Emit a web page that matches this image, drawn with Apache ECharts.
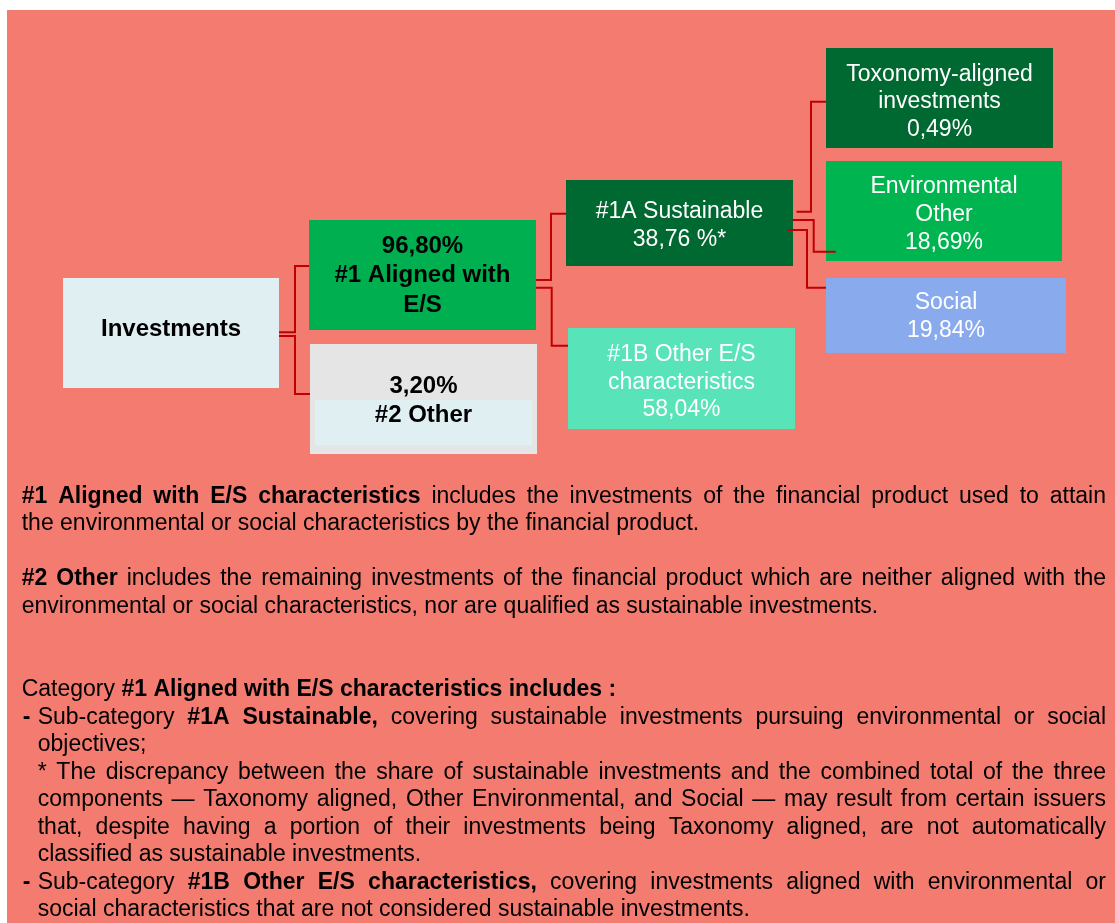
<!DOCTYPE html>
<html>
<head>
<meta charset="utf-8">
<script src="https://cdn.jsdelivr.net/npm/echarts@6/dist/echarts.min.js"></script>
<style>
  html, body { margin: 0; padding: 0; background: #fff; }
  #chart { width: 1115px; height: 923px; }
</style>
</head>
<body>
<div id="chart"></div>
<script>
// ---- data ----
var nodeNames = [
  "Investments",
  "#1 Aligned with\nE/S",
  "#2 Other",
  "#1A Sustainable",
  "#1B Other E/S\ncharacteristics",
  "Toxonomy-aligned\ninvestments",
  "Environmental\nOther",
  "Social"
];
var nodeShares = [null, 96.80, 3.20, 38.76, 58.04, 0.49, 18.69, 19.84];
var shareSuffix = ["", "%", "%", " %*", "%", "%", "%", "%"];
var nodeParent = [-1, 0, 0, 1, 1, 3, 3, 3];

// notes under the diagram, one entry per printed line: [bold, text] parts
var noteLines = [
  [[1, "#1 Aligned with E/S characteristics"], [0, " includes the investments of the financial product used to attain"]],
  [[0, "the environmental or social characteristics by the financial product."]],
  [[1, "#2 Other"], [0, " includes the remaining investments of the financial product which are neither aligned with the"]],
  [[0, "environmental or social characteristics, nor are qualified as sustainable investments."]],
  [[0, "Category "], [1, "#1 Aligned with E/S characteristics includes :"]],
  [[0, "Sub-category "], [1, "#1A Sustainable,"], [0, " covering sustainable investments pursuing environmental or social"]],
  [[0, "objectives;"]],
  [[0, "* The discrepancy between the share of sustainable investments and the combined total of the three"]],
  [[0, "components \u2014 Taxonomy aligned, Other Environmental, and Social \u2014 may result from certain issuers"]],
  [[0, "that, despite having a portion of their investments being Taxonomy aligned, are not automatically"]],
  [[0, "classified as sustainable investments."]],
  [[0, "Sub-category "], [1, "#1B Other E/S characteristics,"], [0, " covering investments aligned with environmental or"]],
  [[0, "social characteristics that are not considered sustainable investments."]]
];

// ---- layout ----
var FONT = "'Liberation Sans', Arial, sans-serif";
var nodeLayout = [
  { box: [63, 278, 279, 388], fill: "#DFEFF2", color: "#000", bold: true, size: 24, lh: 29.5, dy: -4 },
  { box: [309, 220, 536, 330], fill: "#00AF50", color: "#000", bold: true, size: 24, lh: 29.5, dy: 0.5, shareFirst: true },
  { box: [310, 344, 537, 454], fill: "#E5E5E5", color: "#000", bold: true, size: 24, lh: 29.5, dy: 2, shareFirst: true,
    band: [315, 400, 532, 445], bandFill: "#DFEFF2" },
  { box: [566, 180, 793, 266], fill: "#006831", color: "#fff", size: 23, lh: 27.4, dy: 2.5 },
  { box: [568, 328, 795, 429], fill: "#58E3B8", color: "#fff", size: 23, lh: 27.4, dy: 4 },
  { box: [826, 48, 1053, 148], fill: "#006831", color: "#fff", size: 23, lh: 27.6, dy: 4 },
  { box: [826, 161, 1062, 261], fill: "#00B450", color: "#fff", size: 23, lh: 27.6, dy: 3.7 },
  { box: [826, 278, 1066, 353], fill: "#8AAAEE", color: "#fff", size: 23, lh: 27.6, dy: 1 }
];
// elbow connectors child -> [startX, startY, elbowX, endX, endY]
var edgeLayout = {
  1: [279, 332.3, 295, 309, 266],
  2: [279, 336, 295, 310, 394],
  3: [536, 280, 551, 566, 213.7],
  4: [536, 287.7, 551.7, 568, 345.7],
  5: [796.5, 211.7, 811, 826, 101.7],
  6: [792.5, 220, 813.7, 835.7, 251.7],
  7: [788, 230, 807, 826, 287.7]
};
var noteLayout = [
  { x: 21.7, y: 503.3, justify: true },
  { x: 21.7, y: 531 },
  { x: 21.7, y: 586, justify: true },
  { x: 21.7, y: 614 },
  { x: 21.7, y: 696.7 },
  { x: 37.7, y: 724.2, justify: true, bullet: true },
  { x: 37.7, y: 751.7 },
  { x: 37.7, y: 779.2, justify: true },
  { x: 37.7, y: 806.7, justify: true },
  { x: 37.7, y: 834.2, justify: true },
  { x: 37.7, y: 861.7 },
  { x: 37.7, y: 889.2, justify: true, bullet: true },
  { x: 37.7, y: 916.7 }
];
var NOTE_SIZE = 23;
var NOTE_RIGHT = 1106;

function fmtShare(v) {
  return v.toFixed(2).replace(".", ",");
}
function nodeLabel(i) {
  if (nodeShares[i] == null) return nodeNames[i];
  var s = fmtShare(nodeShares[i]) + shareSuffix[i];
  return nodeLayout[i].shareFirst ? s + "\n" + nodeNames[i] : nodeNames[i] + "\n" + s;
}

// justified note text, word by word
var ctx = document.createElement("canvas").getContext("2d");
function noteFont(bold) {
  return (bold ? "bold " : "") + NOTE_SIZE + "px " + FONT;
}
function measure(t, bold) {
  ctx.font = noteFont(bold);
  return ctx.measureText(t).width;
}
function buildNotes() {
  var els = [];
  var midOff = NOTE_SIZE * 0.3;
  noteLines.forEach(function (parts, li) {
    var lay = noteLayout[li];
    if (lay.bullet) {
      els.push({ type: "text", x: 22.7, y: lay.y - midOff,
        style: { text: "-", font: noteFont(true), fill: "#000", verticalAlign: "middle" } });
    }
    var words = [];
    parts.forEach(function (p) {
      p[1].split(" ").forEach(function (w) {
        if (w !== "") words.push({ t: w, b: p[0] });
      });
    });
    var widths = words.map(function (w) { return measure(w.t, w.b); });
    var total = widths.reduce(function (a, b) { return a + b; }, 0);
    var gap = measure(" ", false);
    if (lay.justify && words.length > 1) gap = (NOTE_RIGHT - lay.x - total) / (words.length - 1);
    var x = lay.x;
    words.forEach(function (w, k) {
      els.push({ type: "text", x: x, y: lay.y - midOff,
        style: { text: w.t, font: noteFont(w.b), fill: "#000", verticalAlign: "middle" } });
      x += widths[k] + gap;
    });
  });
  return els;
}

var chart = echarts.init(document.getElementById("chart"));
var option = {
  backgroundColor: "#fff",
  animation: false,
  grid: { left: 0, right: 0, top: 0, bottom: 0 },
  xAxis: { type: "value", min: 0, max: 1115, show: false },
  yAxis: { type: "value", min: 0, max: 923, inverse: true, show: false },
  graphic: [
    { type: "rect", z: -10, shape: { x: 7, y: 10, width: 1108, height: 913 }, style: { fill: "#F37B70" } }
  ].concat(buildNotes()),
  series: [
    {
      type: "custom",
      silent: true,
      clip: false,
      z: 2,
      data: nodeNames.map(function (n, i) { return [i, 0]; }),
      renderItem: function (params, api) {
        var i = api.value(0);
        var b = nodeLayout[i];
        var p0 = api.coord([b.box[0], b.box[1]]);
        var p1 = api.coord([b.box[2], b.box[3]]);
        var children = [{
          type: "rect",
          shape: { x: p0[0], y: p0[1], width: p1[0] - p0[0], height: p1[1] - p0[1] },
          style: { fill: b.fill }
        }];
        if (b.band) {
          var q0 = api.coord([b.band[0], b.band[1]]);
          var q1 = api.coord([b.band[2], b.band[3]]);
          children.push({
            type: "rect",
            shape: { x: q0[0], y: q0[1], width: q1[0] - q0[0], height: q1[1] - q0[1] },
            style: { fill: b.bandFill }
          });
        }
        var c = api.coord([(b.box[0] + b.box[2]) / 2, (b.box[1] + b.box[3]) / 2 + b.dy]);
        children.push({
          type: "text",
          x: c[0],
          y: c[1],
          style: {
            text: nodeLabel(i),
            align: "center",
            verticalAlign: "middle",
            fill: b.color,
            font: (b.bold ? "bold " : "") + b.size + "px " + FONT,
            lineHeight: b.lh
          }
        });
        return { type: "group", children: children };
      }
    },
    {
      type: "custom",
      silent: true,
      clip: false,
      z: 3,
      data: nodeParent.map(function (p, i) { return [i, 0]; }).filter(function (d) { return nodeParent[d[0]] >= 0; }),
      renderItem: function (params, api) {
        var e = edgeLayout[api.value(0)];
        var pts = [[e[0], e[1]], [e[2], e[1]], [e[2], e[4]], [e[3], e[4]]].map(function (p) { return api.coord(p); });
        return {
          type: "polyline",
          shape: { points: pts },
          style: { stroke: "#C00000", lineWidth: 2, fill: null }
        };
      }
    }
  ]
};
chart.setOption(option);
</script>
</body>
</html>
